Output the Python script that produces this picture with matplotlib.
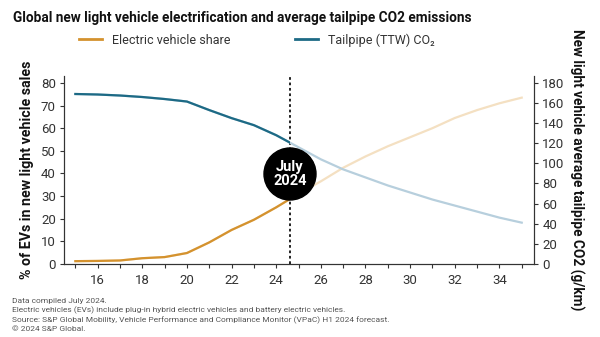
import numpy as np
import matplotlib
matplotlib.use("Agg")
import matplotlib.pyplot as plt
from matplotlib.patches import Rectangle, Ellipse
from matplotlib.lines import Line2D
import matplotlib.transforms as mtransforms

plt.rcParams['font.family'] = ['Roboto', 'DejaVu Sans']

# data
years = [15, 16, 17, 18, 19, 20, 21, 22, 23, 24, 25, 26, 27, 28, 29, 30, 31, 32, 33, 34, 35]
ev_share = [1.2, 1.3, 1.5, 2.5, 3.0, 4.8, 9.5, 15.0, 19.5, 25.0, 31.0, 36.5, 42.5, 47.5,
            52.0, 56.0, 60.0, 64.5, 68.0, 71.0, 73.5]
co2 = [169, 168.5, 167.5, 166, 164, 161.5, 153, 145, 138, 128, 116, 104, 94, 86,
       78, 71, 64, 58, 52, 46, 41]
cutoff = 24.6  # July 2024
x_ticks = [16, 18, 20, 22, 24, 26, 28, 30, 32, 34]

orange = "#d4922e"
orange_light = "#f4e0c2"
blue = "#1d6a85"
blue_light = "#b7cfdd"
txt = "#333333"

W, H = 600, 337
fig = plt.figure(figsize=(6, 3.37), dpi=100)
ax = fig.add_axes([0.107, 0.217, 0.783, 0.557])
ax2 = ax.twinx()

# faded forecast lines first, then dark history clipped at the cutoff
ax.plot(years, ev_share, color=orange_light, lw=1.6, zorder=2)
ax2.plot(years, co2, color=blue_light, lw=1.6, zorder=2)

tr = mtransforms.blended_transform_factory(ax.transData, ax.transAxes)
clip1 = Rectangle((10, -1), cutoff - 10, 3, transform=tr)
l1, = ax.plot(years, ev_share, color=orange, lw=1.6, zorder=3)
l1.set_clip_path(clip1)
clip2 = Rectangle((10, -1), cutoff - 10, 3, transform=tr)
l2, = ax2.plot(years, co2, color=blue, lw=1.6, zorder=3)
l2.set_clip_path(clip2)

ax.set_xlim(14.5, 35.55)
ax.set_ylim(0, 83)
ax2.set_ylim(0, 83 * 2.25)
ax.set_yticks(range(0, 81, 10))
ax2.set_yticks(range(0, 181, 20))
ax.set_xticks(x_ticks)
ax.set_xticks(range(15, 36), minor=True)

for a in (ax, ax2):
    a.spines['top'].set_visible(False)
    for s in a.spines.values():
        s.set_color(txt)
        s.set_linewidth(0.8)
    a.tick_params(colors=txt, labelsize=9.5, length=3, width=0.8, pad=3)
ax.tick_params(axis='x', which='minor', length=3, width=0.8, colors=txt)
ax.tick_params(axis='x', pad=4)

ax.set_ylabel("% of EVs in new light vehicle sales", fontsize=10.2, fontweight='bold',
              color="#111111", labelpad=5)
ax2.set_ylabel("New light vehicle average tailpipe CO2 (g/km)", fontsize=9.8,
               fontweight='bold', color="#111111", rotation=270, labelpad=14)

# July 2024 marker
ax.axvline(cutoff, color="#111111", lw=1.3, ls=(0, (1.5, 1.5)), zorder=4)
cx, cy = 290 / W, 1 - 174 / H
fig.add_artist(Ellipse((cx, cy), 52 / W, 52 / H, transform=fig.transFigure,
                       color="black", zorder=5))
fig.text(cx, cy, "July\n2024", ha='center', va='center', color='white',
         fontsize=10.5, fontweight='bold', linespacing=1.0, zorder=6)

fig.text(13 / W, 1 - 18 / H, "Global new light vehicle electrification and average tailpipe CO2 emissions",
         fontsize=9.8, fontweight='bold', color="#111111", va='center')

handles = [Line2D([], [], color=orange, lw=2), Line2D([], [], color=blue, lw=2)]
fig.legend(handles, ["Electric vehicle share", "Tailpipe (TTW) CO₂"], ncol=2,
           loc='center', bbox_to_anchor=(0.428, 1 - 40 / H), frameon=False,
           fontsize=9, handlelength=1.9, handletextpad=0.8, columnspacing=5.1,
           labelcolor=txt)

notes = ["Data compiled July 2024.",
         "Electric vehicles (EVs) include plug-in hybrid electric vehicles and battery electric vehicles.",
         "Source: S&P Global Mobility, Vehicle Performance and Compliance Monitor (VPaC) H1 2024 forecast.",
         "© 2024 S&P Global."]
fig.text(12 / W, 1 - 298 / H, "\n".join(notes), fontsize=6, color="#555555",
         va='top', linespacing=1.4)

fig.savefig("out.png", dpi=100)
